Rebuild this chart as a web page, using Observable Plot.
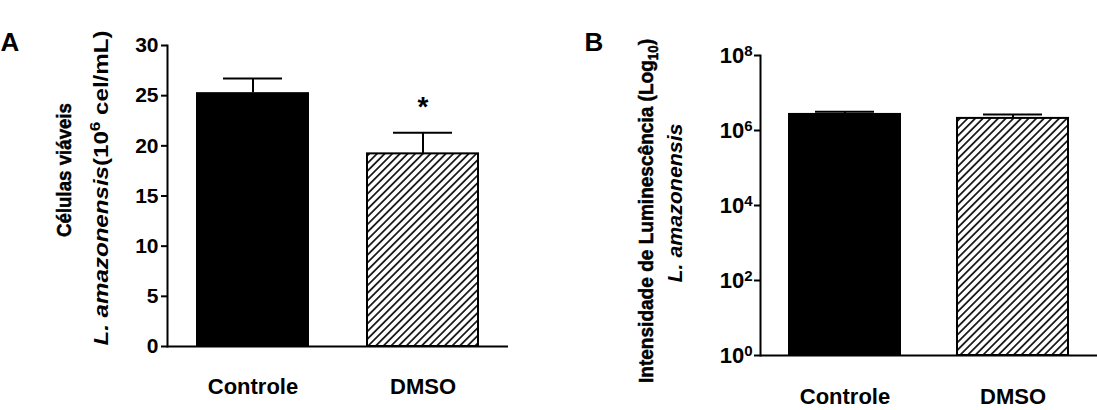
<!DOCTYPE html>
<html><head><meta charset="utf-8">
<script src="https://cdn.jsdelivr.net/npm/d3@7"></script>
<script src="https://cdn.jsdelivr.net/npm/@observablehq/plot@0.6"></script>
<style>
body{margin:0;background:#fff;}
#wrap{display:flex;width:1097px;height:410px;overflow:hidden;}
#wrap svg{flex:none;}
</style></head><body><div id="wrap"></div>
<script>
// ---- data ----
const categories = ["Controle", "DMSO"];
const viableMean = [25.3, 19.2];          // 10^6 cel/mL
const viableSEM = [1.4, 2.1];
const viableSig = ["", "*"];
const lumMean = [2.85e6, 2.1e6];          // luminescence
const lumSEM = [0.3e6, 0.57e6];
const ticksA = [0, 5, 10, 15, 20, 25, 30];
const ticksB = [1, 1e2, 1e4, 1e6, 1e8];
const tickExpB = ["0", "2", "4", "6", "8"];
const panelLabels = ["A", "B"];
const titleA1 = "Células viáveis";
const titleA2 = ["L. amazonensis", "(10", "6", " cel/mL)"];
const titleB1 = ["Intensidade de Luminescência (Log", "10", ")"];
const titleB2 = "L. amazonensis";

const FONT = "'Liberation Sans', Arial, Helvetica, sans-serif";
const rowsA = categories.map((c, i) => ({cat: c, mean: viableMean[i], top: viableMean[i] + viableSEM[i], sig: viableSig[i]}));
const rowsB = categories.map((c, i) => ({cat: c, mean: lumMean[i], top: lumMean[i] + lumSEM[i]}));

const wrap = document.getElementById("wrap");

// ---- Panel A ----
const svgA = Plot.plot({
  width: 540, height: 410,
  marginLeft: 167, marginRight: 32, marginTop: 45, marginBottom: 64,
  style: {fontFamily: FONT, color: "#000", background: "#fff"},
  x: {domain: categories, paddingInner: 0.335, paddingOuter: 0.165},
  y: {domain: [0, 30]},
  marks: [
    Plot.barY(rowsA, {filter: d => d.cat === categories[0], x: "cat", y: "mean", fill: "#000"}),
    Plot.barY(rowsA, {filter: d => d.cat === categories[1], x: "cat", y: "mean", fill: "url(#hatchA)", stroke: "#000", strokeWidth: 2, insetLeft: 1, insetRight: 1}),
    Plot.ruleX(rowsA, {x: "cat", y1: "mean", y2: "top", stroke: "#000", strokeWidth: 2}),
    Plot.tickY(rowsA, {x: "cat", y: "top", stroke: "#000", strokeWidth: 2, insetLeft: 27, insetRight: 27}),
    Plot.text(rowsA, {x: "cat", y: "top", text: "sig", dy: -17, lineAnchor: "bottom", fontSize: 28, fontWeight: "bold", fill: "#000"}),
    Plot.axisY({ticks: ticksA, tickSize: 6, tickPadding: 3, fontSize: 21, fontWeight: "bold", strokeWidth: 2, label: null}),
    Plot.axisX({tickSize: 0, tickPadding: 32, fontSize: 22, fontWeight: "bold", label: null}),
    Plot.frame({anchor: "left", strokeWidth: 2}),
    Plot.ruleY([0], {strokeWidth: 2})
  ]
});
wrap.appendChild(svgA);

// ---- Panel B ----
const svgB = Plot.plot({
  width: 557, height: 410,
  marginLeft: 220, marginRight: 0, marginTop: 55, marginBottom: 55,
  style: {fontFamily: FONT, color: "#000", background: "#fff"},
  x: {domain: categories, paddingInner: 0.33, paddingOuter: 0.166},
  y: {type: "log", domain: [1, 1e8]},
  marks: [
    Plot.barY(rowsB, {filter: d => d.cat === categories[0], x: "cat", y1: 1, y2: "mean", fill: "#000"}),
    Plot.barY(rowsB, {filter: d => d.cat === categories[1], x: "cat", y1: 1, y2: "mean", fill: "url(#hatchB)", stroke: "#000", strokeWidth: 2, insetLeft: 1, insetRight: 1}),
    Plot.ruleX(rowsB, {x: "cat", y1: "mean", y2: "top", stroke: "#000", strokeWidth: 2}),
    Plot.tickY(rowsB, {x: "cat", y: "top", stroke: "#000", strokeWidth: 2, insetLeft: 27, insetRight: 27}),
    Plot.axisY({ticks: ticksB, tickFormat: d => "10^" + tickExpB[ticksB.indexOf(d)], tickSize: 6, tickPadding: 2, fontSize: 22, fontWeight: "bold", strokeWidth: 2, label: null}),
    Plot.axisX({tickSize: 0, tickPadding: 33, fontSize: 22, fontWeight: "bold", label: null}),
    Plot.frame({anchor: "left", strokeWidth: 2}),
    Plot.ruleY([1], {strokeWidth: 2})
  ]
});
wrap.appendChild(svgB);

// ---- hatch patterns ----
function addHatch(svg, id) {
  const defs = d3.select(svg).insert("defs", ":first-child");
  const p = defs.append("pattern").attr("id", id).attr("patternUnits", "userSpaceOnUse")
    .attr("width", 5.4).attr("height", 5.4).attr("patternTransform", "rotate(45)");
  p.append("rect").attr("width", 5.4).attr("height", 5.4).attr("fill", "#fff");
  p.append("line").attr("x1", 2.7).attr("x2", 2.7).attr("y1", -1).attr("y2", 6.4)
    .attr("stroke", "#000").attr("stroke-width", 1.6);
}
addHatch(svgA, "hatchA");
addHatch(svgB, "hatchB");

// ---- superscript tick labels on B ----
d3.select(svgB).selectAll('g[aria-label="y-axis tick label"] text').each(function () {
  const parts = this.textContent.split("^");
  const s = d3.select(this);
  s.text(null);
  s.append("tspan").text(parts[0]);
  s.append("tspan").attr("dy", "-0.45em").attr("font-size", 15).text(parts[1]);
});

// ---- titles & panel letters ----
const gA = d3.select(svgA);
gA.append("text").attr("x", 10).attr("y", 51).attr("font-size", 26).attr("font-weight", "bold").attr("fill", "#000").text(panelLabels[0]);
gA.append("text").attr("transform", "translate(71,170) rotate(-90)").attr("text-anchor", "middle")
  .attr("font-size", 20).attr("font-weight", "bold").attr("fill", "#000")
  .attr("stroke", "#000").attr("stroke-width", 0.5)
  .attr("textLength", 134).attr("lengthAdjust", "spacingAndGlyphs").text(titleA1);
const tA2 = gA.append("text").attr("transform", "translate(108,188) rotate(-90)").attr("text-anchor", "middle")
  .attr("font-size", 21).attr("font-weight", "bold").attr("fill", "#000")
  .attr("textLength", 315).attr("lengthAdjust", "spacingAndGlyphs");
tA2.append("tspan").attr("font-style", "italic").text(titleA2[0]);
tA2.append("tspan").text(titleA2[1]);
tA2.append("tspan").attr("dy", -8).attr("font-size", 15).text(titleA2[2]);
tA2.append("tspan").attr("dy", 8).text(titleA2[3]);

const gB = d3.select(svgB);
gB.append("text").attr("x", 54).attr("y", 51).attr("font-size", 26).attr("font-weight", "bold").attr("fill", "#000").text(panelLabels[1]);
const tB1 = gB.append("text").attr("transform", "translate(113,211) rotate(-90)").attr("text-anchor", "middle")
  .attr("font-size", 20).attr("font-weight", "bold").attr("fill", "#000")
  .attr("stroke", "#000").attr("stroke-width", 0.5)
  .attr("textLength", 344).attr("lengthAdjust", "spacingAndGlyphs");
tB1.append("tspan").text(titleB1[0]);
tB1.append("tspan").attr("dy", 5).attr("font-size", 14).text(titleB1[1]);
tB1.append("tspan").attr("dy", -5).text(titleB1[2]);
gB.append("text").attr("transform", "translate(142,203) rotate(-90)").attr("text-anchor", "middle")
  .attr("font-size", 21).attr("font-weight", "bold").attr("font-style", "italic").attr("fill", "#000")
  .attr("textLength", 159).attr("lengthAdjust", "spacingAndGlyphs").text(titleB2);
</script></body></html>
